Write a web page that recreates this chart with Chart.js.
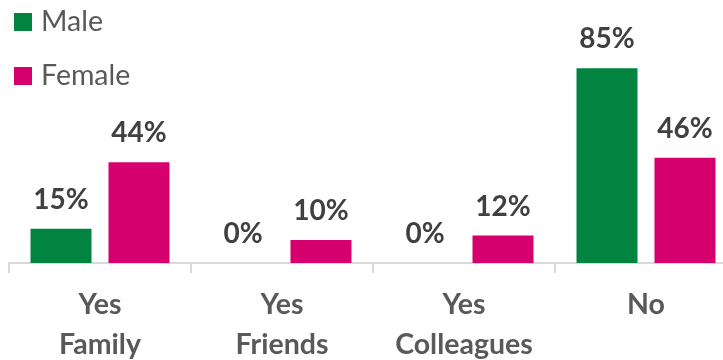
<!DOCTYPE html>
<html><head><meta charset="utf-8">
<script src="https://cdn.jsdelivr.net/npm/chart.js@4"></script>
<style>
html,body{margin:0;padding:0;overflow:hidden;background:#fff;width:723px;height:360px}
#wrap{position:relative;width:745px;height:360px}
.sw{position:absolute;left:14px;width:18px;height:18px}
.lt{position:absolute;left:41px;font-family:Lato,sans-serif;font-size:28.5px;line-height:28px;color:#595959;white-space:nowrap}
</style></head>
<body>
<div id="wrap">
<canvas id="c" width="745" height="360"></canvas>
<div class="sw" style="top:13px;background:#00843F"></div><div class="lt" style="top:6px">Male</div>
<div class="sw" style="top:67px;background:#D5006D"></div><div class="lt" style="top:60px">Female</div>
</div>
<script>
const categories = [['Yes','Family'],['Yes','Friends'],['Yes','Colleagues'],['No']];
const maleValues = [15, 0, 0, 85];
const femaleValues = [44, 10, 12, 46];
const seriesNames = ['Male', 'Female'];

const labelPlugin = {
  id: 'valLabels',
  afterDatasetsDraw(chart) {
    const ctx = chart.ctx;
    ctx.save();
    ctx.font = 'bold 28px Lato, sans-serif';
    ctx.fillStyle = '#404040';
    ctx.textAlign = 'center';
    ctx.textBaseline = 'alphabetic';
    chart.data.datasets.forEach((ds, i) => {
      chart.getDatasetMeta(i).data.forEach((el, j) => {
        ctx.fillText(ds.data[j] + '%', el.x, el.y - 20);
      });
    });
    ctx.restore();
  }
};

new Chart(document.getElementById('c'), {
  type: 'bar',
  data: {
    labels: categories,
    datasets: [
      { label: seriesNames[0], data: maleValues, backgroundColor: '#00843F', borderWidth: 0,
        categoryPercentage: 0.857, barPercentage: 0.782 },
      { label: seriesNames[1], data: femaleValues, backgroundColor: '#D5006D', borderWidth: 0,
        categoryPercentage: 0.857, barPercentage: 0.782 }
    ]
  },
  options: {
    responsive: false,
    animation: false,
    devicePixelRatio: 1,
    layout: { padding: { top: 34, left: 9, right: 8, bottom: 0 } },
    plugins: { legend: { display: false }, tooltip: { enabled: false } },
    scales: {
      y: { display: false, min: 0, max: 100 },
      x: {
        afterFit: s => { s.height = 97; },
        border: { display: true, color: '#d9d9d9', width: 2 },
        grid: { display: true, drawOnChartArea: false, drawTicks: true, tickLength: 10, color: '#d9d9d9', lineWidth: 2, offset: true },
        ticks: { color: '#595959', padding: 12, font: { family: 'Lato, sans-serif', size: 28.5, weight: 'bold', lineHeight: 40 / 28.5 }, maxRotation: 0, autoSkip: false }
      }
    }
  },
  plugins: [labelPlugin]
});
</script>
</body></html>
